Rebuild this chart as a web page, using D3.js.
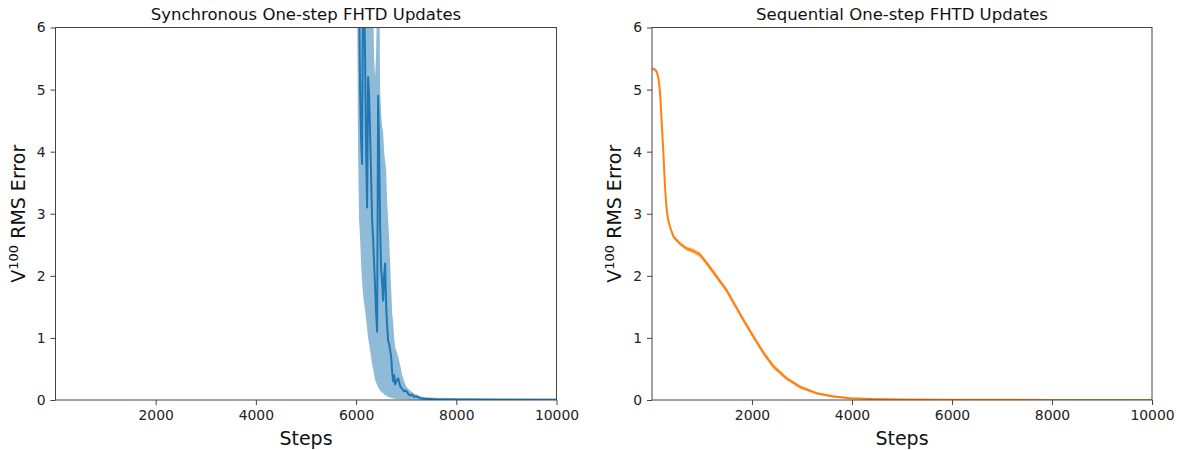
<!DOCTYPE html>
<html>
<head>
<meta charset="utf-8">
<script src="https://cdn.jsdelivr.net/npm/d3@7"></script>
<style>
body { margin: 0; background: #fff; }
</style>
</head>
<body>
<div id="chart"></div>
<script>
// ---- data ----
// synchronous updates: mean + band (values above 6 are clipped by the axes)
const blueSteps = [1, 3000, 6000,
	6020, 6040, 6060, 6080, 6100, 6120, 6140, 6160, 6180, 6200,
	6220, 6240, 6260, 6280, 6300, 6320, 6340, 6360, 6380, 6400,
	6420, 6440, 6460, 6480, 6500, 6520, 6540, 6560, 6580, 6600,
	6620, 6640, 6660, 6680, 6700, 6720, 6740, 6760, 6780, 6800,
	6840, 6880, 6920, 6960, 7000, 7040, 7080, 7120, 7160, 7200,
	7280, 7360, 7480, 7600, 8000, 9000, 10000];
const blueMean = [80, 60, 40,
	12, 7.5, 6.5, 5.0, 4.2, 3.8, 7.0, 6.5, 5.5, 4.0,
	3.1, 5.2, 4.9, 4.3, 3.6, 2.9, 2.6, 2.2, 1.8, 1.4,
	1.1, 4.9, 4.0, 2.8, 2.1, 1.9, 1.6, 2.0, 2.2, 1.5,
	1.2, 0.95, 0.9, 0.8, 0.7, 0.45, 0.3, 0.4, 0.25, 0.3,
	0.35, 0.22, 0.18, 0.14, 0.15, 0.1, 0.07, 0.09, 0.05, 0.06,
	0.03, 0.02, 0.015, 0.01, 0.008, 0.005, 0.004];
const blueLow = [60, 40, 20,
	6.5, 4.0, 2.9, 2.6, 2.2, 1.9, 1.7, 1.55, 1.45, 1.3,
	1.15, 1.0, 0.9, 0.8, 0.68, 0.58, 0.5, 0.4, 0.32, 0.28,
	0.24, 0.2, 0.18, 0.15, 0.13, 0.12, 0.11, 0.09, 0.08, 0.07,
	0.06, 0.05, 0.045, 0.04, 0.035, 0.03, 0.025, 0.02, 0.02, 0.018,
	0.016, 0.015, 0.013, 0.012, 0.011, 0.01, 0.009, 0.008, 0.007, 0.006,
	0.005, 0.004, 0.003, 0.003, 0.002, 0.001, 0.001];
const blueHigh = [100, 80, 60,
	20, 15, 12, 10, 9, 9, 11, 10, 9, 8,
	7.5, 9, 8.5, 8, 7.5, 7, 6.5, 5.5, 5.2, 5.6,
	6.5, 8, 7, 5.0, 4.6, 4.4, 4.3, 4.0, 3.85, 3.7,
	3.2, 2.9, 2.6, 2.2, 1.8, 1.4, 1.25, 1.0, 0.85, 0.8,
	0.7, 0.56, 0.4, 0.3, 0.22, 0.18, 0.15, 0.13, 0.1, 0.09,
	0.06, 0.05, 0.04, 0.035, 0.03, 0.025, 0.02];

// sequential updates: smooth decay, very thin band
const orangeSteps = [1, 50, 100, 130, 150, 170, 190, 210, 230, 260, 290, 320,
	360, 430, 500, 560, 690, 830, 960, 1090, 1290, 1490, 1630, 1830,
	2030, 2230, 2430, 2690, 2960, 3290, 3630, 3960, 4400, 5000, 6000, 8000, 10000];
const orangeMean = [5.33, 5.33, 5.28, 5.18, 5.05, 4.85, 4.55, 4.25, 3.95, 3.45, 3.10, 2.92,
	2.79, 2.63, 2.57, 2.52, 2.44, 2.40, 2.34, 2.21, 1.99, 1.77, 1.57, 1.29,
	1.02, 0.76, 0.54, 0.35, 0.21, 0.11, 0.055, 0.03, 0.015, 0.008, 0.004, 0.002, 0.001];
const orangeSpread = [0.02, 0.02, 0.02, 0.03, 0.03, 0.03, 0.03, 0.03, 0.03, 0.03, 0.03, 0.03,
	0.03, 0.03, 0.03, 0.03, 0.03, 0.04, 0.04, 0.04, 0.04, 0.04, 0.04, 0.04,
	0.04, 0.04, 0.04, 0.03, 0.03, 0.02, 0.02, 0.01, 0.01, 0.01, 0.01, 0.01, 0.01];

const xTicks = [2000, 4000, 6000, 8000, 10000];
const yTicks = [0, 1, 2, 3, 4, 5, 6];

const WIDTH = 1178, HEIGHT = 450;
const FONT = "DejaVu Sans, sans-serif";

const svg = d3.select("#chart").append("svg")
	.attr("width", WIDTH)
	.attr("height", HEIGHT)
	.style("font-family", FONT);

// one subplot
function plotPanel(id, left, right, title, steps, mean, low, high, color) {
	const top = 27.5, bottom = 400;
	const x = d3.scaleLinear().domain([1, 10000]).range([left, right]);
	const y = d3.scaleLinear().domain([0, 6]).range([bottom, top]);

	svg.append("clipPath").attr("id", "clip-" + id)
		.append("rect")
		.attr("x", left).attr("y", top)
		.attr("width", right - left).attr("height", bottom - top);

	const g = svg.append("g").attr("clip-path", `url(#clip-${id})`);
	const rows = steps.map((s, i) => ({ s: s, m: mean[i], lo: low[i], hi: high[i] }));

	g.append("path")
		.datum(rows)
		.attr("fill", color)
		.attr("fill-opacity", 0.5)
		.attr("d", d3.area().x(d => x(d.s)).y0(d => y(d.lo)).y1(d => y(d.hi)));

	g.append("path")
		.datum(rows)
		.attr("fill", "none")
		.attr("stroke", color)
		.attr("stroke-width", 2)
		.attr("stroke-linejoin", "round")
		.attr("d", d3.line().x(d => x(d.s)).y(d => y(d.m)));

	// axes
	const xAxis = svg.append("g")
		.attr("transform", `translate(0,${bottom})`)
		.call(d3.axisBottom(x).tickValues(xTicks).tickFormat(d3.format("d")).tickSize(5).tickPadding(5));
	const yAxis = svg.append("g")
		.attr("transform", `translate(${left},0)`)
		.call(d3.axisLeft(y).tickValues(yTicks).tickFormat(d3.format("d")).tickSize(5).tickPadding(5));
	[xAxis, yAxis].forEach(a => {
		a.select(".domain").remove();
		a.selectAll("line").attr("stroke", "#444");
		a.selectAll("text").attr("fill", "#222").style("font-size", "13.9px").style("font-family", FONT);
	});

	// frame
	svg.append("rect")
		.attr("x", left).attr("y", top)
		.attr("width", right - left).attr("height", bottom - top)
		.attr("fill", "none")
		.attr("stroke", "#444")
		.attr("stroke-width", 1);

	svg.append("text")
		.attr("x", (left + right) / 2)
		.attr("y", 20)
		.attr("text-anchor", "middle")
		.style("font-size", "16.5px")
		.attr("fill", "#111")
		.text(title);

	svg.append("text")
		.attr("x", (left + right) / 2)
		.attr("y", 445)
		.attr("text-anchor", "middle")
		.style("font-size", "19px")
		.attr("fill", "#111")
		.text("Steps");

	const yl = svg.append("text")
		.attr("transform", `translate(${left - 31},${(top + bottom) / 2}) rotate(-90)`)
		.attr("text-anchor", "middle")
		.style("font-size", "19px")
		.attr("fill", "#111");
	yl.append("tspan").text("V");
	yl.append("tspan").attr("dy", -7).style("font-size", "13px").text("100");
	yl.append("tspan").attr("dy", 7).text(" RMS Error");
}

plotPanel("a", 55.5, 556.5, "Synchronous One-step FHTD Updates",
	blueSteps, blueMean, blueLow, blueHigh, "#1f77b4");
plotPanel("b", 652, 1152, "Sequential One-step FHTD Updates",
	orangeSteps, orangeMean,
	orangeMean.map((v, i) => v - orangeSpread[i]),
	orangeMean.map((v, i) => v + orangeSpread[i]), "#ff7f0e");
</script>
</body>
</html>
